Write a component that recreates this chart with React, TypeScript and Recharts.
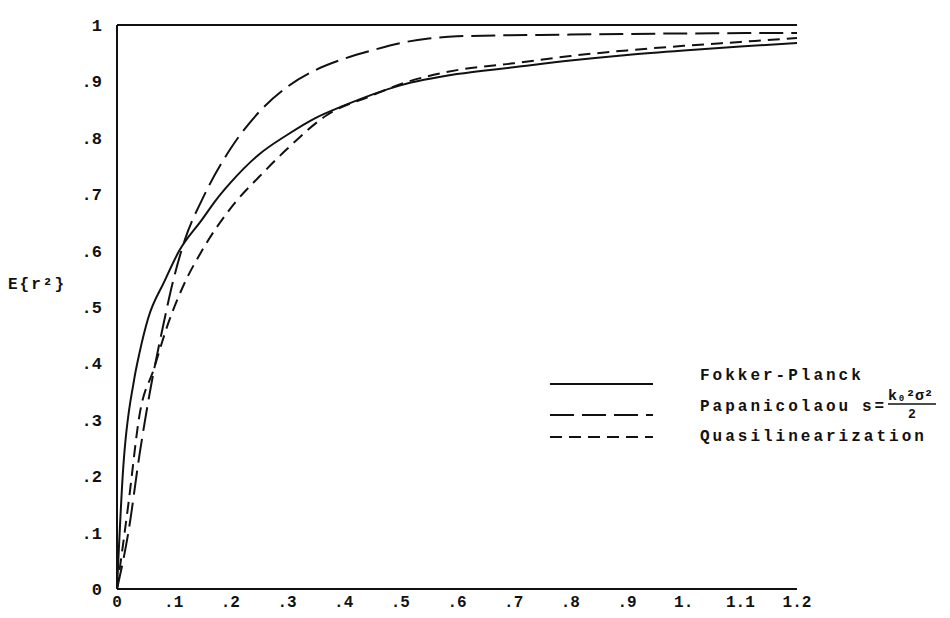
import React from "react"
import { LineChart, Line, XAxis, YAxis, ReferenceLine } from "recharts"

// axis ticks
const xTicks = [0, 0.1, 0.2, 0.3, 0.4, 0.5, 0.6, 0.7, 0.8, 0.9, 1.0, 1.1, 1.2]
const yTicks = [0, 0.1, 0.2, 0.3, 0.4, 0.5, 0.6, 0.7, 0.8, 0.9, 1.0]

// curves (x = time, y = E{r^2})
const fokkerPlanck = [
  { x: 0, y: 0 },
  { x: 0.01, y: 0.2 },
  { x: 0.03, y: 0.37 },
  { x: 0.04, y: 0.42 },
  { x: 0.055, y: 0.48 },
  { x: 0.083, y: 0.544 },
  { x: 0.11, y: 0.6 },
  { x: 0.15, y: 0.655 },
  { x: 0.175, y: 0.69 },
  { x: 0.2, y: 0.72 },
  { x: 0.25, y: 0.77 },
  { x: 0.3, y: 0.805 },
  { x: 0.35, y: 0.835 },
  { x: 0.4, y: 0.857 },
  { x: 0.5, y: 0.893 },
  { x: 0.6, y: 0.913 },
  { x: 0.7, y: 0.925 },
  { x: 0.8, y: 0.937 },
  { x: 0.9, y: 0.947 },
  { x: 1.0, y: 0.955 },
  { x: 1.1, y: 0.962 },
  { x: 1.2, y: 0.968 },
]

const papanicolaou = [
  { x: 0, y: 0 },
  { x: 0.02, y: 0.1 },
  { x: 0.04, y: 0.24 },
  { x: 0.06, y: 0.36 },
  { x: 0.08, y: 0.46 },
  { x: 0.1, y: 0.55 },
  { x: 0.12, y: 0.62 },
  { x: 0.15, y: 0.69 },
  { x: 0.2, y: 0.78 },
  { x: 0.25, y: 0.845 },
  { x: 0.3, y: 0.89 },
  { x: 0.35, y: 0.92 },
  { x: 0.4, y: 0.94 },
  { x: 0.45, y: 0.955 },
  { x: 0.5, y: 0.968 },
  { x: 0.55, y: 0.976 },
  { x: 0.6, y: 0.98 },
  { x: 0.8, y: 0.983 },
  { x: 1.0, y: 0.985 },
  { x: 1.2, y: 0.986 },
]

const quasilinearization = [
  { x: 0, y: 0 },
  { x: 0.02, y: 0.15 },
  { x: 0.04, y: 0.31 },
  { x: 0.065, y: 0.39 },
  { x: 0.09, y: 0.47 },
  { x: 0.12, y: 0.544 },
  { x: 0.15, y: 0.6 },
  { x: 0.21, y: 0.687 },
  { x: 0.25, y: 0.73 },
  { x: 0.3, y: 0.78 },
  { x: 0.37, y: 0.84 },
  { x: 0.45, y: 0.875 },
  { x: 0.5, y: 0.895 },
  { x: 0.6, y: 0.92 },
  { x: 0.7, y: 0.932 },
  { x: 0.8, y: 0.945 },
  { x: 0.9, y: 0.955 },
  { x: 1.0, y: 0.963 },
  { x: 1.1, y: 0.97 },
  { x: 1.2, y: 0.977 },
]

const FONT = "'Liberation Mono', 'DejaVu Sans Mono', monospace"
const INK = "#111"
const PAP_DASH = "24 8"
const QUASI_DASH = "12 7"

const fmtX = (v: number) => {
  if (v === 0) return "0"
  if (Math.abs(v - 1) < 1e-9) return "1."
  if (v > 1) return v.toFixed(1)
  return "." + Math.round(v * 10)
}

const fmtY = (v: number) => {
  if (v === 0) return "0"
  if (v === 1) return "1"
  return "." + Math.round(v * 10)
}

function Legend() {
  const textStyle = { fontFamily: FONT, fontSize: 16, letterSpacing: 3, fill: INK, fontWeight: 600 }
  return (
    <svg width={950} height={618} style={{ position: "absolute", left: 0, top: 0, pointerEvents: "none" }}>
      <line x1={550} x2={653} y1={384} y2={384} stroke={INK} strokeWidth={2} />
      <line x1={550} x2={653} y1={415} y2={415} stroke={INK} strokeWidth={2} strokeDasharray={PAP_DASH} />
      <line x1={550} x2={653} y1={437} y2={437} stroke={INK} strokeWidth={2} strokeDasharray={QUASI_DASH} />
      <text x={700} y={380} {...textStyle}>Fokker-Planck</text>
      <text x={700} y={411} {...textStyle}>Papanicolaou</text>
      <text x={862} y={411} {...textStyle}>s=</text>
      <text x={888} y={400} fontFamily={FONT} fontSize={15} fontWeight={600} fill={INK}>k₀²σ²</text>
      <line x1={888} x2={936} y1={404} y2={404} stroke={INK} strokeWidth={1.5} />
      <text x={908} y={418} fontFamily={FONT} fontSize={13} fontWeight={600} fill={INK}>2</text>
      <text x={700} y={441} {...textStyle}>Quasilinearization</text>
    </svg>
  )
}

export default function App() {
  return (
    <div style={{ position: "absolute", left: 0, top: 0, width: 950, height: 618, background: "#fff" }}>
      <LineChart width={950} height={618} margin={{ top: 25, right: 153, bottom: 0, left: 57 }}>
        <XAxis
          dataKey="x"
          type="number"
          domain={[0, 1.2]}
          ticks={xTicks}
          tickFormatter={fmtX}
          axisLine={{ stroke: INK, strokeWidth: 2 }}
          tickLine={false}
          tickMargin={1}
          height={29}
          tick={{ fill: INK, fontSize: 16, fontFamily: FONT, fontWeight: 600 }}
          allowDataOverflow
        />
        <YAxis
          dataKey="y"
          type="number"
          domain={[0, 1]}
          ticks={yTicks}
          tickFormatter={fmtY}
          axisLine={{ stroke: INK, strokeWidth: 2 }}
          tickLine={false}
          tickMargin={9}
          width={60}
          tick={{ fill: INK, fontSize: 17, fontFamily: FONT, fontWeight: 600 }}
        />
        <ReferenceLine y={1} stroke={INK} strokeWidth={2} />
        <Line
          data={fokkerPlanck}
          dataKey="y"
          type="monotone"
          stroke={INK}
          strokeWidth={2}
          dot={false}
          isAnimationActive={false}
        />
        <Line
          data={papanicolaou}
          dataKey="y"
          type="monotone"
          stroke={INK}
          strokeWidth={2}
          strokeDasharray={PAP_DASH}
          dot={false}
          isAnimationActive={false}
        />
        <Line
          data={quasilinearization}
          dataKey="y"
          type="monotone"
          stroke={INK}
          strokeWidth={2}
          strokeDasharray={QUASI_DASH}
          dot={false}
          isAnimationActive={false}
        />
      </LineChart>
      <div
        style={{
          position: "absolute",
          left: 8,
          top: 276,
          fontFamily: FONT,
          fontSize: 16,
          fontWeight: 600,
          letterSpacing: 2,
          color: INK,
        }}
      >
        E{"{"}r²{"}"}
      </div>
      <Legend />
    </div>
  )
}
